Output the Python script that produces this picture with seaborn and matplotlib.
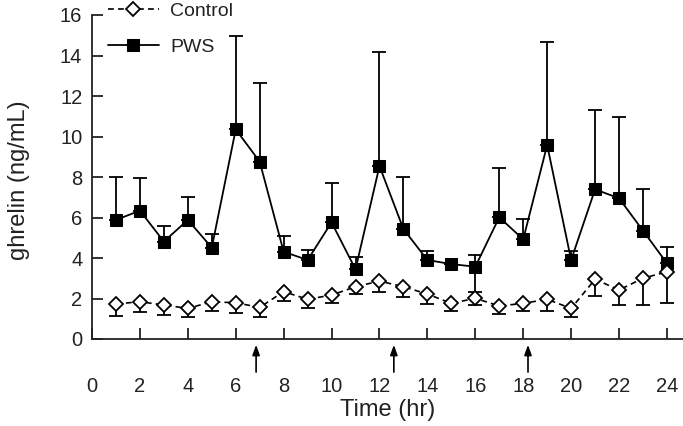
import numpy as np
import pandas as pd
import matplotlib
matplotlib.use("Agg")
import matplotlib.pyplot as plt
import seaborn as sns

sns.set_style("ticks")
plt.rcParams['font.family'] = ['Liberation Sans', 'DejaVu Sans']

# 数据
hours = list(range(1, 25))
pws_mean = [5.88, 6.34, 4.81, 5.88, 4.51, 10.35, 8.76, 4.31, 3.90, 5.76, 3.44, 8.54,
            5.43, 3.90, 3.70, 3.57, 6.01, 4.92, 9.58, 3.90, 7.39, 6.95, 5.35, 3.74]
pws_top = [8.01, 7.97, 5.60, 7.00, 5.17, 14.96, 12.63, 5.09, 4.40, 7.69, 4.03, 14.19,
           8.02, 4.35, 3.70, 4.15, 8.43, 5.93, 14.68, 4.36, 11.31, 10.95, 7.39, 4.53]
pws_bottom = [5.88, 6.34, 4.81, 5.88, 4.51, 10.35, 8.76, 4.31, 3.90, 5.76, 3.44, 8.54,
              5.43, 3.90, 3.70, 2.30, 6.01, 4.92, 9.58, 3.90, 7.39, 6.95, 5.35, 3.74]
ctrl_mean = [1.73, 1.84, 1.68, 1.51, 1.84, 1.79, 1.56, 2.34, 1.96, 2.17, 2.58, 2.86,
             2.58, 2.22, 1.76, 2.01, 1.63, 1.76, 1.96, 1.51, 2.95, 2.42, 3.00, 3.32]
ctrl_bottom = [1.14, 1.32, 1.19, 1.07, 1.40, 1.27, 1.10, 1.89, 1.55, 1.79, 2.22, 2.34,
               2.05, 1.73, 1.40, 1.68, 1.23, 1.40, 1.40, 1.10, 2.12, 1.68, 1.68, 1.76]
meal_times = [6.85, 12.6, 18.2]
x_ticks = list(range(0, 25, 2))
y_ticks = list(range(0, 17, 2))

df = pd.DataFrame({'hour': hours, 'PWS': pws_mean, 'Control': ctrl_mean})

fig = plt.figure(figsize=(6.83, 4.26), dpi=100)
ax = fig.add_axes([92 / 683, 1 - 339 / 426, 1 - 92 / 683, 324 / 426])

# 误差线
pws_err = [np.array(pws_mean) - np.array(pws_bottom), np.array(pws_top) - np.array(pws_mean)]
ax.errorbar(hours, pws_mean, yerr=pws_err, fmt='none', ecolor='black',
            elinewidth=1.3, capsize=4.7, capthick=1.3, zorder=2)
ctrl_err = [np.array(ctrl_mean) - np.array(ctrl_bottom), np.zeros(len(ctrl_mean))]
ax.errorbar(hours, ctrl_mean, yerr=ctrl_err, fmt='none', ecolor='black',
            elinewidth=1.3, capsize=4.7, capthick=1.3, zorder=2)

sns.lineplot(data=df, x='hour', y='PWS', ax=ax, color='black', linewidth=1.3,
             marker='s', markersize=9, markerfacecolor='black', markeredgecolor='black',
             label='PWS', zorder=3)
sns.lineplot(data=df, x='hour', y='Control', ax=ax, color='black', linewidth=1.2,
             linestyle=(0, (3.5, 2.5)), marker='D', markersize=6.8,
             markerfacecolor='white', markeredgecolor='black', markeredgewidth=1.3,
             label='Control', zorder=4)

ax.set_xlim(0, 24.67)
ax.set_ylim(0, 16)
ax.set_xticks(x_ticks)
ax.set_yticks(y_ticks)
ax.tick_params(axis='both', direction='in', length=8, width=1.3, color='#222222',
               labelsize=14.5, labelcolor='#222222')
ax.tick_params(axis='x', pad=27)
ax.tick_params(axis='y', pad=7)
for s in ['top', 'right']:
    ax.spines[s].set_visible(False)
for s in ['left', 'bottom']:
    ax.spines[s].set_linewidth(1.3)
    ax.spines[s].set_color('#222222')

ax.set_xlabel('Time (hr)', fontsize=17, color='#222222')
ax.set_ylabel('ghrelin (ng/mL)', fontsize=17, color='#222222')
ax.xaxis.set_label_coords(0.5, -0.185)
ax.yaxis.set_label_coords(-0.105, 0.49)

# 用餐时间箭头
for t in meal_times:
    ax.annotate('', xy=(t, -0.018), xytext=(t, -0.102),
                xycoords=('data', 'axes fraction'), textcoords=('data', 'axes fraction'),
                arrowprops=dict(arrowstyle='-|>,head_length=0.6,head_width=0.22',
                                color='black', lw=1.2, shrinkA=0, shrinkB=0),
                annotation_clip=False)

handles, labels = ax.get_legend_handles_labels()
order = [labels.index('Control'), labels.index('PWS')]
leg = ax.legend([handles[i] for i in order], [labels[i] for i in order],
                loc='upper left', bbox_to_anchor=(108 / 683, 1 - 2 / 426),
                bbox_transform=fig.transFigure,
                frameon=False, fontsize=14, handlelength=2.6, handletextpad=0.6,
                labelspacing=0.95, borderpad=0, borderaxespad=0)
for t in leg.get_texts():
    t.set_color('#222222')

fig.savefig('out.png', dpi=100)
